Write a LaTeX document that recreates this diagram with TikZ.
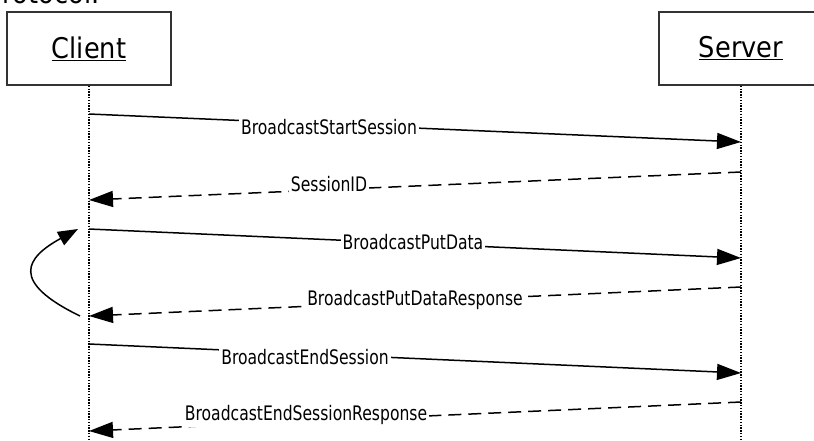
\documentclass[tikz,border=0pt]{standalone}
\usepackage{fontspec}
\setmainfont{DejaVu Sans}[FakeStretch=0.9]
\newfontfamily\lblfont{DejaVu Sans}[FakeStretch=0.78]
\usetikzlibrary{arrows.meta}
\tikzset{
  actor/.style={draw=black!80, line width=1.5pt, minimum width=164pt, minimum height=73pt, inner sep=0pt,
    font=\fontsize{28.5}{32}\selectfont},
  lifeline/.style={line width=1.3pt, dash pattern=on 1.4pt off 1.4pt},
  msg/.style={line width=1.5pt, -{Triangle[length=24pt,width=16pt]}},
  reply/.style={msg, dash pattern=on 13pt off 7pt},
  lbl/.style={fill=white, inner sep=2pt, font=\lblfont\fontsize{20}{22}\selectfont},
  loopar/.style={line width=1.5pt, -{Triangle[length=20pt,width=15pt]}}
}
\begin{document}
\begin{tikzpicture}[x=1pt,y=-1pt]
\useasboundingbox (0,0) rectangle (814,440);
\clip (0,0) rectangle (814,440);
\node[anchor=base east, font=\fontsize{28.5}{32}\selectfont] (title) at (103,3) {protocol.};
\node[actor] (client) at (89,48.5) {\underline{Client}};
\node[actor] (server) at (741,48.5) {\underline{Server}};
\coordinate (cbot) at (89,440);
\coordinate (sbot) at (741,440);
\draw[lifeline] (client.south) -- (cbot);
\draw[lifeline] (server.south) -- (sbot);
% message end points
\coordinate (c1) at (89,114);  \coordinate (s1) at (741,142);
\coordinate (s2) at (741,172); \coordinate (c2) at (89,200);
\coordinate (c3) at (89,229);  \coordinate (s3) at (741,258);
\coordinate (s4) at (741,287); \coordinate (c4) at (89,316);
\coordinate (c5) at (89,344);  \coordinate (s5) at (741,373);
\coordinate (s6) at (741,402); \coordinate (c6) at (89,431);
\draw[msg] (c1) -- (s1);
\node[lbl] (l1) at (329,127) {BroadcastStartSession};
\draw[reply] (s2) -- (c2);
\node[lbl] (l2) at (329,184) {SessionID};
\draw[msg] (c3) -- (s3);
\node[lbl] (l3) at (413,242) {BroadcastPutData};
\draw[reply] (s4) -- (c4);
\node[lbl] (l4) at (415,300) {BroadcastPutDataResponse};
\draw[msg] (c5) -- (s5);
\node[lbl] (l5) at (305,357) {BroadcastEndSession};
\draw[reply] (s6) -- (c6);
\node[lbl] (l6) at (306,415) {BroadcastEndSessionResponse};
% loop arrow
\coordinate (lb) at (80,316);
\coordinate (lt) at (78,229);
\draw[loopar] (lb) .. controls (10,282) and (25,258) .. (lt);
\end{tikzpicture}
\end{document}
